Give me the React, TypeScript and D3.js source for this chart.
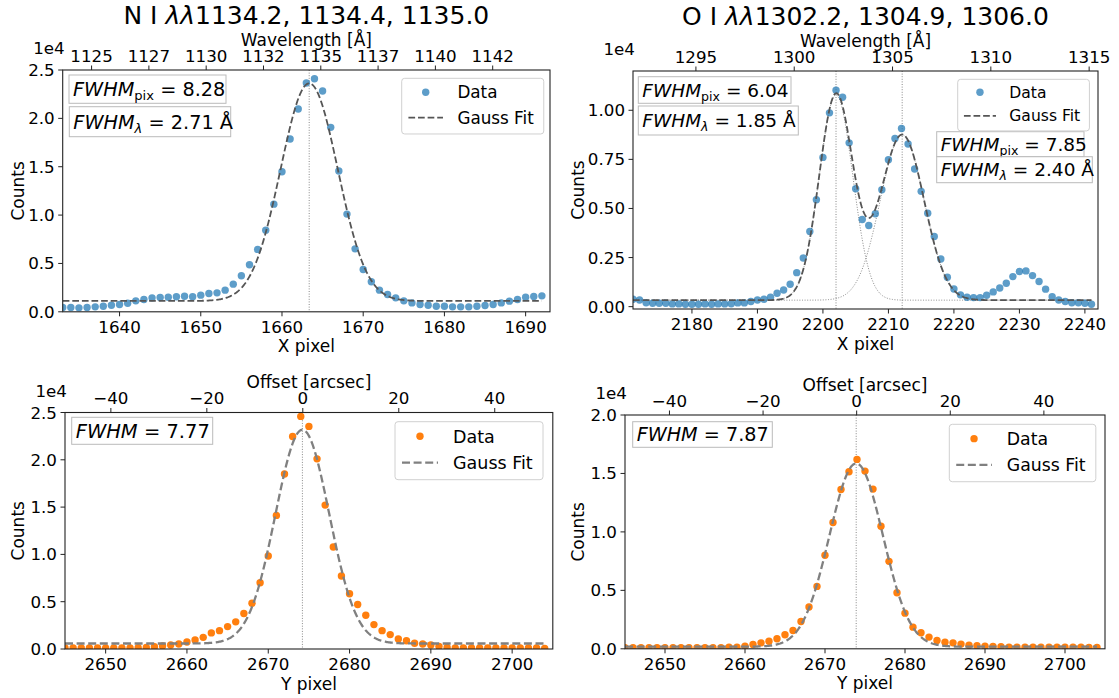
import React from "react";
import * as d3 from "d3";

const FONT = "'DejaVu Sans', 'Liberation Sans', sans-serif";

// ---------------- data (counts, units of 1e4) ----------------
// N I, spectral direction (X pixel), first pixel 1633
const nIXStart = 1633;
const nIXCounts = [
  0.044, 0.044, 0.041, 0.044, 0.051, 0.058, 0.068, 0.075, 0.089, 0.113,
  0.127, 0.144, 0.148, 0.151, 0.155, 0.161, 0.155, 0.172, 0.189, 0.196,
  0.224, 0.286, 0.372, 0.486, 0.645, 0.844, 1.113, 1.448, 1.786, 2.096,
  2.365, 2.41, 2.283, 1.907, 1.455, 1.01, 0.651, 0.437, 0.31, 0.224,
  0.179, 0.144, 0.113, 0.092, 0.075, 0.068, 0.058, 0.058, 0.051, 0.051,
  0.051, 0.058, 0.065, 0.075, 0.092, 0.11, 0.127, 0.151, 0.158, 0.165,
];
// O I, spectral direction (X pixel), first pixel 2171
const oIXStart = 2171;
const oIXCounts = [
  0.038, 0.034, 0.02, 0.017, 0.017, 0.017, 0.014, 0.014, 0.012, 0.012,
  0.012, 0.014, 0.012, 0.014, 0.014, 0.015, 0.019, 0.019, 0.026, 0.034,
  0.038, 0.048, 0.068, 0.085, 0.114, 0.173, 0.248, 0.383, 0.544, 0.76,
  0.987, 1.102, 1.066, 0.834, 0.6, 0.444, 0.413, 0.473, 0.595, 0.748,
  0.856, 0.907, 0.828, 0.701, 0.587, 0.476, 0.357, 0.243, 0.15, 0.09,
  0.06, 0.048, 0.046, 0.046, 0.058, 0.075, 0.095, 0.119, 0.153, 0.179,
  0.182, 0.158, 0.128, 0.089, 0.051, 0.034, 0.026, 0.02, 0.02, 0.017,
  0.012,
];
// N I, spatial direction (Y pixel), first pixel 2645
const nIYStart = 2645;
const nIYCounts = [
  0.011, 0.011, 0.011, 0.011, 0.011, 0.011, 0.011, 0.011, 0.011, 0.014,
  0.017, 0.024, 0.032, 0.042, 0.053, 0.074, 0.096, 0.123, 0.17, 0.194,
  0.237, 0.287, 0.375, 0.484, 0.701, 0.983, 1.412, 1.85, 2.246, 2.459,
  2.353, 2.01, 1.521, 1.079, 0.771, 0.584, 0.47, 0.357, 0.258, 0.194,
  0.152, 0.106, 0.088, 0.06, 0.053, 0.042, 0.028, 0.017, 0.011, 0.011,
  0.011, 0.011, 0.011, 0.011, 0.011, 0.011, 0.011, 0.011, 0.011, 0.007,
];
// O I, spatial direction (Y pixel), first pixel 2645
const oIYStart = 2645;
const oIYCounts = [
  0.009, 0.009, 0.009, 0.009, 0.009, 0.009, 0.009, 0.009, 0.009, 0.009,
  0.009, 0.009, 0.009, 0.014, 0.014, 0.022, 0.037, 0.051, 0.065, 0.086,
  0.12, 0.157, 0.234, 0.357, 0.534, 0.8, 1.08, 1.363, 1.514, 1.62,
  1.52, 1.366, 1.048, 0.748, 0.48, 0.305, 0.185, 0.137, 0.1, 0.071,
  0.057, 0.051, 0.04, 0.031, 0.026, 0.022, 0.02, 0.017, 0.014, 0.014,
  0.014, 0.014, 0.014, 0.014, 0.014, 0.014, 0.014, 0.014, 0.011, 0.011,
];

// ---------------- fit parameters (Gauss fits) ----------------
const nIXFit = { base: 0.112, lines: [{ amp: 2.25, center: 1663.35, fwhm: 8.28 }] };
const oIXFit = {
  base: 0.033,
  lines: [
    { amp: 1.045, center: 2202.0, fwhm: 6.04 },
    { amp: 0.843, center: 2212.1, fwhm: 7.85 },
  ],
};
const nIYFit = { base: 0.058, lines: [{ amp: 2.26, center: 2674.2, fwhm: 7.77 }] };
const oIYFit = { base: 0.018, lines: [{ amp: 1.568, center: 2673.9, fwhm: 7.87 }] };

// ---------------- ticks ----------------
const nIXTicks = [1640, 1650, 1660, 1670, 1680, 1690];
const oIXTicks = [2180, 2190, 2200, 2210, 2220, 2230, 2240];
const yPixelTicks = [2650, 2660, 2670, 2680, 2690, 2700];
const nIWaveTicks = [1125, 1127.5, 1130, 1132.5, 1135, 1137.5, 1140, 1142.5];
const oIWaveTicks = [1295, 1300, 1305, 1310, 1315];
const offsetTicks = [-40, -20, 0, 20, 40];
const nIXCountTicks = [0, 0.5, 1, 1.5, 2, 2.5];
const oIXCountTicks = [0, 0.25, 0.5, 0.75, 1];
const nIYCountTicks = [0, 0.5, 1, 1.5, 2, 2.5];
const oIYCountTicks = [0, 0.5, 1, 1.5, 2];

// secondary axis limits
const nIWaveLimits = [1123.74, 1145.0];
const oIWaveLimits = [1291.8, 1315.45];
const nIOffsetLimits = [-49.56, 52.1];
const oIOffsetLimits = [-49.5, 53.06];

const titles = ["N I ", "O I "];
const titleWaves = ["1134.2, 1134.4, 1135.0", "1302.2, 1304.9, 1306.0"];

type Gauss = { amp: number; center: number; fwhm: number };
type Fit = { base: number; lines: Gauss[] };

function gauss(g: Gauss, x: number) {
  const s = g.fwhm / (2 * Math.sqrt(2 * Math.log(2)));
  return g.amp * Math.exp(-((x - g.center) ** 2) / (2 * s * s));
}

type Annot = { x0: number; y0: number; x1: number; y1: number; sub: string | null; value: string };

type PanelProps = {
  id: string;
  frame: { l: number; r: number; t: number; b: number };
  xDomain: number[];
  yDomain: number[];
  xTicks: number[];
  yTicks: number[];
  yFmt: (v: number) => string;
  topDomain: number[];
  topTicks: number[];
  topFmt: (v: number) => string;
  topLabel: string;
  xLabel: string;
  title?: { a: string; b: string };
  start: number;
  counts: number[];
  color: string;
  alpha: number;
  fit: Fit;
  fitColor: string;
  fitWidth: number;
  fitDash: string;
  components: boolean;
  legend: { x: number; y: number; s: number };
  annots: Annot[];
  annotFs: number;
  ylabelOffset: number;
};

function Panel(p: PanelProps) {
  const f = p.frame;
  const x = d3.scaleLinear().domain(p.xDomain).range([f.l, f.r]);
  const y = d3.scaleLinear().domain(p.yDomain).range([f.b, f.t]);
  const top = d3.scaleLinear().domain(p.topDomain).range([f.l, f.r]);
  const clip = `clip-${p.id}`;
  const x0 = p.start;
  const x1 = p.start + p.counts.length - 1;
  const samples = d3.range(0, Math.round((x1 - x0) * 10) + 1).map((k) => x0 + k / 10);
  const total = (v: number) => p.fit.base + p.fit.lines.reduce((s, g) => s + gauss(g, v), 0);
  const line = d3
    .line<number>()
    .x((d) => x(d))
    .y((d) => y(total(d)));
  const compLines = p.fit.lines.map((g) =>
    d3
      .line<number>()
      .x((d) => x(d))
      .y((d) => y(p.fit.base + gauss(g, d)))(samples)
  );
  const tickFs = 16.7;
  const cx = (f.l + f.r) / 2;
  const cy = (f.t + f.b) / 2;
  const L = p.legend;
  const s = L.s;
  const fs = p.annotFs;
  return (
    <g>
      <defs>
        <clipPath id={clip}>
          <rect x={f.l} y={f.t} width={f.r - f.l} height={f.b - f.t} />
        </clipPath>
      </defs>
      <g clipPath={`url(#${clip})`}>
        {p.fit.lines.map((g, i) => (
          <line
            key={"v" + i}
            x1={x(g.center)}
            x2={x(g.center)}
            y1={f.t}
            y2={f.b}
            stroke="#888"
            strokeWidth={1}
            strokeDasharray="1,1.6"
          />
        ))}
        {p.components &&
          compLines.map((d, i) => (
            <path key={"c" + i} d={d || ""} fill="none" stroke="#888" strokeWidth={1} strokeDasharray="1,1.6" />
          ))}
        {p.counts.map((v, i) => (
          <circle key={i} cx={x(p.start + i)} cy={y(v)} r={3.7} fill={p.color} fillOpacity={p.alpha} />
        ))}
        <path
          d={line(samples) || ""}
          fill="none"
          stroke={p.fitColor}
          strokeWidth={p.fitWidth}
          strokeDasharray={p.fitDash}
        />
      </g>
      {/* frame */}
      <rect x={f.l} y={f.t} width={f.r - f.l} height={f.b - f.t} fill="none" stroke="#222" strokeWidth={1.1} />
      {/* bottom x ticks */}
      {p.xTicks.map((t) => (
        <g key={"xt" + t}>
          <line x1={x(t)} x2={x(t)} y1={f.b} y2={f.b + 4.5} stroke="#222" strokeWidth={1} />
          <text x={x(t)} y={f.b + 21} fontSize={tickFs} textAnchor="middle" fill="#000">
            {t}
          </text>
        </g>
      ))}
      <text x={cx} y={f.b + 40.5} fontSize={17} textAnchor="middle">
        {p.xLabel}
      </text>
      {/* y ticks */}
      {p.yTicks.map((t) => (
        <g key={"yt" + t}>
          <line x1={f.l - 4.5} x2={f.l} y1={y(t)} y2={y(t)} stroke="#222" strokeWidth={1} />
          <text x={f.l - 8} y={y(t) + 6} fontSize={tickFs} textAnchor="end">
            {p.yFmt(t)}
          </text>
        </g>
      ))}
      <text
        transform={`translate(${f.l - p.ylabelOffset},${cy}) rotate(-90)`}
        fontSize={17}
        textAnchor="middle"
      >
        Counts
      </text>
      <text x={f.l + 2} y={f.t - 16} fontSize={tickFs} textAnchor="end">
        1e4
      </text>
      {/* top axis */}
      {p.topTicks.map((t) => (
        <g key={"tt" + t}>
          <line x1={top(t)} x2={top(t)} y1={f.t} y2={f.t - 4.5} stroke="#222" strokeWidth={1} />
          <text x={top(t)} y={f.t - 8.5} fontSize={tickFs} textAnchor="middle">
            {p.topFmt(t)}
          </text>
        </g>
      ))}
      <text x={cx} y={f.t - 24.5} fontSize={17} textAnchor="middle">
        {p.topLabel}
      </text>
      {p.title && (
        <text x={cx} y={f.t - 46.5} fontSize={25} textAnchor="middle" style={{ whiteSpace: "pre" }}>
          <tspan>{p.title.a}</tspan>
          <tspan fontStyle="italic">λλ</tspan>
          <tspan>{p.title.b}</tspan>
        </text>
      )}
      {/* annotations */}
      {p.annots.map((a, i) => {
        const h = a.y1 - a.y0;
        return (
          <g key={"a" + i}>
            <rect x={a.x0} y={a.y0} width={a.x1 - a.x0} height={h} fill="#fff" fillOpacity={0.85} stroke="#bbb" strokeWidth={1} />
            <text x={a.x0 + 4} y={a.y0 + h / 2 + fs * 0.36} fontSize={fs} style={{ whiteSpace: "pre" }}>
              <tspan fontStyle="italic">FWHM</tspan>
              {a.sub && (
                <tspan fontSize={fs * 0.68} dy={fs * 0.22} fontStyle={a.sub === "λ" ? "italic" : "normal"}>
                  {a.sub}
                </tspan>
              )}
              <tspan dy={a.sub ? -fs * 0.22 : 0}>{" = " + a.value}</tspan>
            </text>
          </g>
        );
      })}
      {/* legend */}
      <g>
        <rect
          x={L.x}
          y={L.y}
          width={148 * s}
          height={58 * s}
          rx={3}
          fill="#fff"
          fillOpacity={0.8}
          stroke="#d0d0d0"
          strokeWidth={1}
        />
        <circle cx={L.x + 25 * s} cy={L.y + 14.5 * s} r={3.7} fill={p.color} fillOpacity={p.alpha} />
        <text x={L.x + 58 * s} y={L.y + 20.8 * s} fontSize={17.5 * s}>
          Data
        </text>
        <line
          x1={L.x + 7 * s}
          x2={L.x + 43 * s}
          y1={L.y + 41 * s}
          y2={L.y + 41 * s}
          stroke={p.fitColor}
          strokeWidth={p.fitWidth}
          strokeDasharray={p.fitDash}
        />
        <text x={L.x + 58 * s} y={L.y + 47.2 * s} fontSize={17.5 * s}>
          Gauss Fit
        </text>
      </g>
    </g>
  );
}

const BLUE = "#1f77b4";
const ORANGE = "#ff7f0e";
const f1 = d3.format(".1f");
const f2 = d3.format(".2f");
const fInt = (v: number) => String(Math.floor(v));
const fOff = (v: number) => (v < 0 ? "\u2212" + Math.abs(v) : String(v));

export default function App() {
  return (
    <svg
      width={1119}
      height={698}
      style={{ position: "absolute", left: 0, top: 0, background: "#fff" }}
      fontFamily={FONT}
    >
      <rect x={0} y={0} width={1119} height={698} fill="#fff" />
      <Panel
        id="tl"
        frame={{ l: 62.7, r: 550, t: 70, b: 311.8 }}
        xDomain={[1633, 1693]}
        yDomain={[0, 2.5]}
        xTicks={nIXTicks}
        yTicks={nIXCountTicks}
        yFmt={f1}
        topDomain={nIWaveLimits}
        topTicks={nIWaveTicks}
        topFmt={fInt}
        topLabel="Wavelength [Å]"
        xLabel="X pixel"
        title={{ a: titles[0], b: titleWaves[0] }}
        start={nIXStart}
        counts={nIXCounts}
        color={BLUE}
        alpha={0.72}
        fit={nIXFit}
        fitColor="#555"
        fitWidth={1.8}
        fitDash="6.7,2.9"
        components={false}
        legend={{ x: 401.7, y: 78.3, s: 0.96 }}
        annots={[
          { x0: 69, y0: 75, x1: 226, y1: 103.3, sub: "pix", value: "8.28" },
          { x0: 69.3, y0: 106.7, x1: 230.7, y1: 136.7, sub: "λ", value: "2.71 Å" },
        ]}
        annotFs={19.3}
        ylabelOffset={39}
      />
      <Panel
        id="tr"
        frame={{ l: 633, r: 1098, t: 71, b: 309 }}
        xDomain={[2171, 2242]}
        yDomain={[-0.012, 1.2]}
        xTicks={oIXTicks}
        yTicks={oIXCountTicks}
        yFmt={f2}
        topDomain={oIWaveLimits}
        topTicks={oIWaveTicks}
        topFmt={fInt}
        topLabel="Wavelength [Å]"
        xLabel="X pixel"
        title={{ a: titles[1], b: titleWaves[1] }}
        start={oIXStart}
        counts={oIXCounts}
        color={BLUE}
        alpha={0.72}
        fit={oIXFit}
        fitColor="#555"
        fitWidth={1.8}
        fitDash="6.7,2.9"
        components={true}
        legend={{ x: 957.7, y: 79.3, s: 0.89 }}
        annots={[
          { x0: 638.3, y0: 76.7, x1: 791, y1: 103.3, sub: "pix", value: "6.04" },
          { x0: 638.3, y0: 106, x1: 798.3, y1: 135, sub: "λ", value: "1.85 Å" },
          { x0: 936.7, y0: 131.7, x1: 1084, y1: 156.7, sub: "pix", value: "7.85" },
          { x0: 936.7, y0: 156.7, x1: 1092.3, y1: 182.7, sub: "λ", value: "2.40 Å" },
        ]}
        annotFs={18.5}
        ylabelOffset={49}
      />
      <Panel
        id="bl"
        frame={{ l: 65, r: 552.8, t: 412.5, b: 649 }}
        xDomain={[2645, 2705]}
        yDomain={[0, 2.5]}
        xTicks={yPixelTicks}
        yTicks={nIYCountTicks}
        yFmt={f1}
        topDomain={nIOffsetLimits}
        topTicks={offsetTicks}
        topFmt={fOff}
        topLabel="Offset [arcsec]"
        xLabel="Y pixel"
        start={nIYStart}
        counts={nIYCounts}
        color={ORANGE}
        alpha={1}
        fit={nIYFit}
        fitColor="#808080"
        fitWidth={2.3}
        fitDash="8,3.6"
        components={false}
        legend={{ x: 395, y: 421.7, s: 1.0 }}
        annots={[{ x0: 71.7, y0: 417.3, x1: 212.7, y1: 444.3, sub: null, value: "7.77" }]}
        annotFs={19.5}
        ylabelOffset={41}
      />
      <Panel
        id="br"
        frame={{ l: 625, r: 1105, t: 415, b: 648.8 }}
        xDomain={[2645, 2705]}
        yDomain={[0, 2.0]}
        xTicks={yPixelTicks}
        yTicks={oIYCountTicks}
        yFmt={f1}
        topDomain={oIOffsetLimits}
        topTicks={offsetTicks}
        topFmt={fOff}
        topLabel="Offset [arcsec]"
        xLabel="Y pixel"
        start={oIYStart}
        counts={oIYCounts}
        color={ORANGE}
        alpha={1}
        fit={oIYFit}
        fitColor="#808080"
        fitWidth={2.3}
        fitDash="8,3.6"
        components={false}
        legend={{ x: 949.3, y: 424.3, s: 0.99 }}
        annots={[{ x0: 632.7, y0: 421.7, x1: 772.3, y1: 447.3, sub: null, value: "7.87" }]}
        annotFs={19.2}
        ylabelOffset={41}
      />
    </svg>
  );
}
